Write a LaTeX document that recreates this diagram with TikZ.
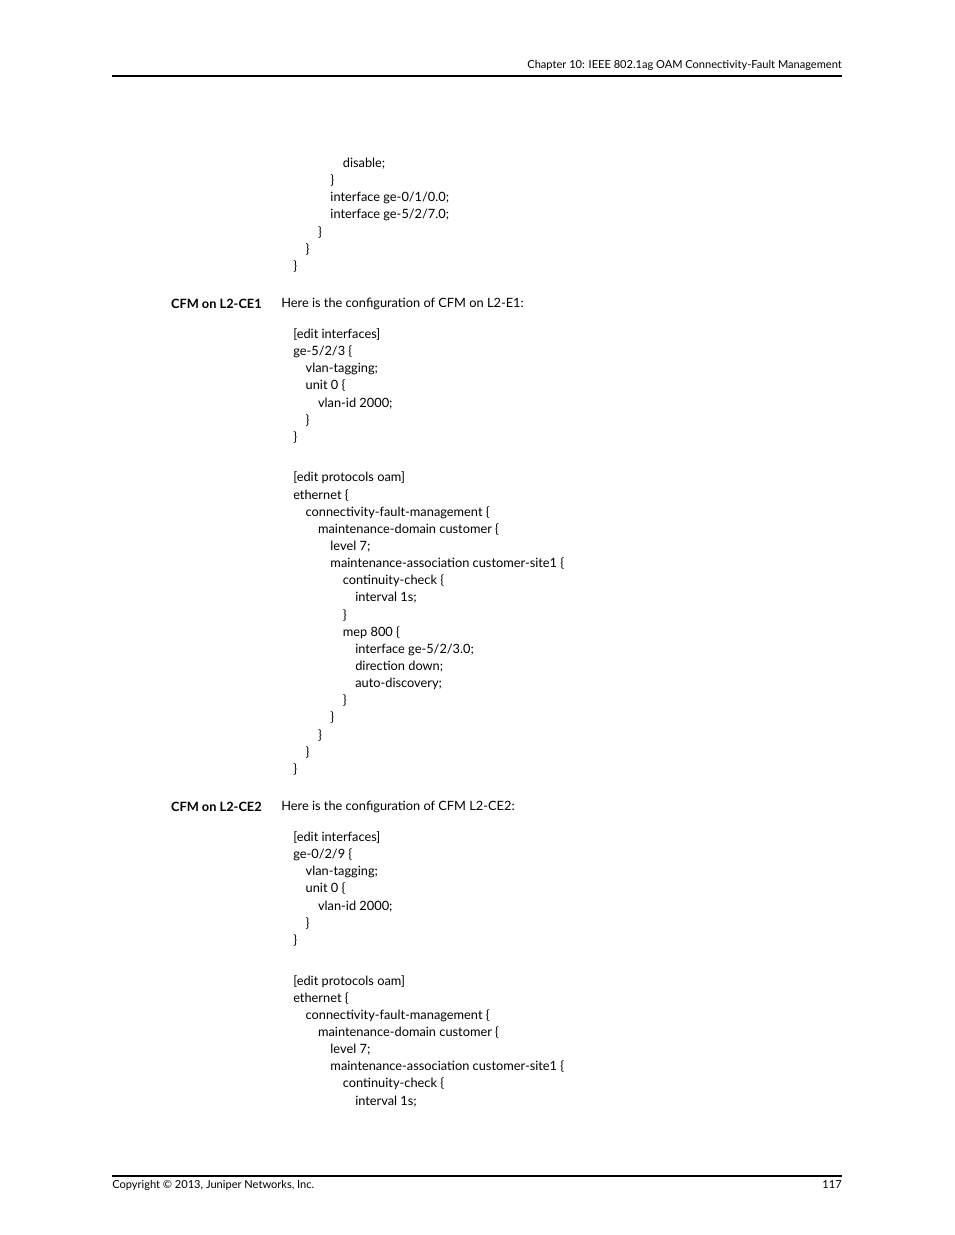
\documentclass[tikz,border=0pt]{standalone}
\usepackage{fontspec}
\setmainfont{Lato}
\newcounter{ln}
\newcommand{\cl}[3]{\stepcounter{ln}\node[code] (c\theln) at ({293+12.4*#1},#2) {#3};}
\begin{document}
\begin{tikzpicture}[x=0.75pt,y=-0.75pt,
  code/.style={anchor=west,inner sep=0pt,font=\fontsize{9.6}{11}\selectfont},
  small/.style={inner sep=0pt,font=\fontsize{8.3}{10}\selectfont},
  side/.style={anchor=east,inner sep=0pt,font=\fontsize{9.6}{11}\selectfont\bfseries}]
\useasboundingbox (0,0) rectangle (954,1235);
\draw[line width=0.8pt] (112,76) coordinate (ha) -- (842,76) coordinate (hb);
\node[small,anchor=east] (hdr) at (842,65) {Chapter 10: IEEE 802.1ag OAM Connectivity-Fault Management};
\draw[line width=0.8pt] (112,1176) coordinate (fa) -- (842,1176) coordinate (fb);
\node[small,anchor=west] (ftl) at (112,1185) {Copyright © 2013, Juniper Networks, Inc.};
\node[small,anchor=east] (ftr) at (842,1185) {117};
\cl{4}{164}{disable;}
\cl{3}{181}{\}}
\cl{3}{198}{interface ge-0/1/0.0;}
\cl{3}{215}{interface ge-5/2/7.0;}
\cl{2}{233}{\}}
\cl{1}{250}{\}}
\cl{0}{267}{\}}
\node[side] (s1) at (262,304) {CFM on L2-CE1};
\node[code] (t1) at (281,304) {Here is the configuration of CFM on L2-E1:};
\foreach \o/\ifc in {0/ge-5/2/3, 503/ge-0/2/9}{}
% block 1
\cl{0}{335}{[edit interfaces]}
\cl{0}{352}{ge-5/2/3 \{}
\cl{1}{369}{vlan-tagging;}
\cl{1}{386}{unit 0 \{}
\cl{2}{404}{vlan-id 2000;}
\cl{1}{421}{\}}
\cl{0}{438}{\}}
\cl{0}{478}{[edit protocols oam]}
\cl{0}{496}{ethernet \{}
\cl{1}{513}{connectivity-fault-management \{}
\cl{2}{530}{maintenance-domain customer \{}
\cl{3}{547}{level 7;}
\cl{3}{564}{maintenance-association customer-site1 \{}
\cl{4}{581}{continuity-check \{}
\cl{5}{598}{interval 1s;}
\cl{4}{616}{\}}
\cl{4}{633}{mep 800 \{}
\cl{5}{650}{interface ge-5/2/3.0;}
\cl{5}{667}{direction down;}
\cl{5}{684}{auto-discovery;}
\cl{4}{701}{\}}
\cl{3}{718}{\}}
\cl{2}{736}{\}}
\cl{1}{753}{\}}
\cl{0}{770}{\}}
\node[side] (s2) at (262,807) {CFM on L2-CE2};
\node[code] (t2) at (281,807) {Here is the configuration of CFM L2-CE2:};
\cl{0}{838}{[edit interfaces]}
\cl{0}{855}{ge-0/2/9 \{}
\cl{1}{872}{vlan-tagging;}
\cl{1}{889}{unit 0 \{}
\cl{2}{907}{vlan-id 2000;}
\cl{1}{924}{\}}
\cl{0}{941}{\}}
\cl{0}{982}{[edit protocols oam]}
\cl{0}{999}{ethernet \{}
\cl{1}{1016}{connectivity-fault-management \{}
\cl{2}{1033}{maintenance-domain customer \{}
\cl{3}{1050}{level 7;}
\cl{3}{1067}{maintenance-association customer-site1 \{}
\cl{4}{1084}{continuity-check \{}
\cl{5}{1102}{interval 1s;}
\end{tikzpicture}
\end{document}
